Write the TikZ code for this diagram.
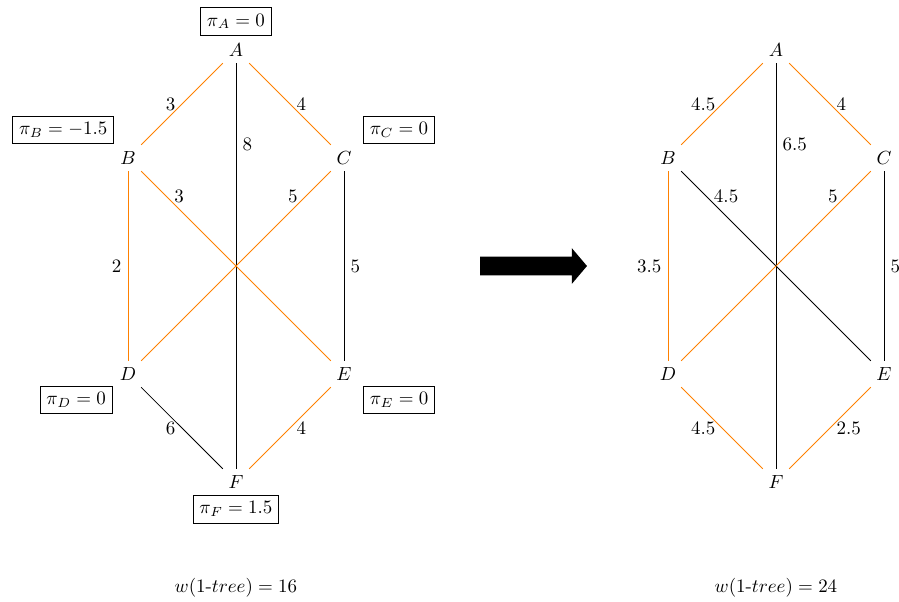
\documentclass[tikz,border=0pt]{standalone}
\usepackage{amsmath}
\usetikzlibrary{arrows.meta}
\begin{document}
\begin{tikzpicture}[
  vtx/.style={inner sep=3.33pt},
  pibox/.style={draw, rectangle},
  tedge/.style={draw=orange},
  nedge/.style={draw=black},
  wlab/.style={inner sep=3.33pt}
]
\useasboundingbox (-4.370,-6.204) rectangle (12.278,4.926);
% left graph
\node[vtx] (A) at (0,4) {$A$};
\node[vtx] (B) at (-2,2) {$B$};
\node[vtx] (C) at (2,2) {$C$};
\node[vtx] (D) at (-2,-2) {$D$};
\node[vtx] (E) at (2,-2) {$E$};
\node[vtx] (F) at (0,-4) {$F$};
\node[pibox] (pA) at (0,4.53) {$\pi_A = 0$};
\node[pibox] (pB) at (-3.2,2.52) {$\pi_B = -1.5$};
\node[pibox] (pC) at (3.02,2.52) {$\pi_C = 0$};
\node[pibox] (pD) at (-2.96,-2.48) {$\pi_D = 0$};
\node[pibox] (pE) at (3.02,-2.48) {$\pi_E = 0$};
\node[pibox] (pF) at (0,-4.5) {$\pi_F = 1.5$};
\draw[tedge] (A) -- node[wlab,left]{$3$} (B);
\draw[tedge] (A) -- node[wlab,right]{$4$} (C);
\draw[nedge] (A) -- node[wlab,pos=0.2,right]{$8$} (F);
\draw[tedge] (B) -- node[wlab,left]{$2$} (D);
\draw[tedge] (B) -- node[wlab,pos=0.2,above]{$3$} (E);
\draw[tedge] (C) -- node[wlab,pos=0.2,above]{$5$} (D);
\draw[nedge] (C) -- node[wlab,right]{$5$} (E);
\draw[nedge] (D) -- node[wlab,left]{$6$} (F);
\draw[tedge] (E) -- node[wlab,right]{$4$} (F);
\node (w1) at (0,-5.96) {$w(1\text{-}tree) = 16$};
% arrow
\fill[black] (4.52,0.175) -- (6.22,0.175) -- (6.22,0.33) -- (6.5,0) -- (6.22,-0.33) -- (6.22,-0.175) -- (4.52,-0.175) -- cycle;
% right graph
\node[vtx] (A2) at (10,4) {$A$};
\node[vtx] (B2) at (8,2) {$B$};
\node[vtx] (C2) at (12,2) {$C$};
\node[vtx] (D2) at (8,-2) {$D$};
\node[vtx] (E2) at (12,-2) {$E$};
\node[vtx] (F2) at (10,-4) {$F$};
\draw[tedge] (A2) -- node[wlab,left]{$4.5$} (B2);
\draw[tedge] (A2) -- node[wlab,right]{$4$} (C2);
\draw[nedge] (A2) -- node[wlab,pos=0.2,right]{$6.5$} (F2);
\draw[tedge] (B2) -- node[wlab,left]{$3.5$} (D2);
\draw[nedge] (B2) -- node[wlab,pos=0.2,above,xshift=0.13cm]{$4.5$} (E2);
\draw[tedge] (C2) -- node[wlab,pos=0.2,above]{$5$} (D2);
\draw[nedge] (C2) -- node[wlab,right]{$5$} (E2);
\draw[tedge] (D2) -- node[wlab,left]{$4.5$} (F2);
\draw[tedge] (E2) -- node[wlab,right]{$2.5$} (F2);
\node (w2) at (10,-5.96) {$w(1\text{-}tree) = 24$};
\end{tikzpicture}
\end{document}
